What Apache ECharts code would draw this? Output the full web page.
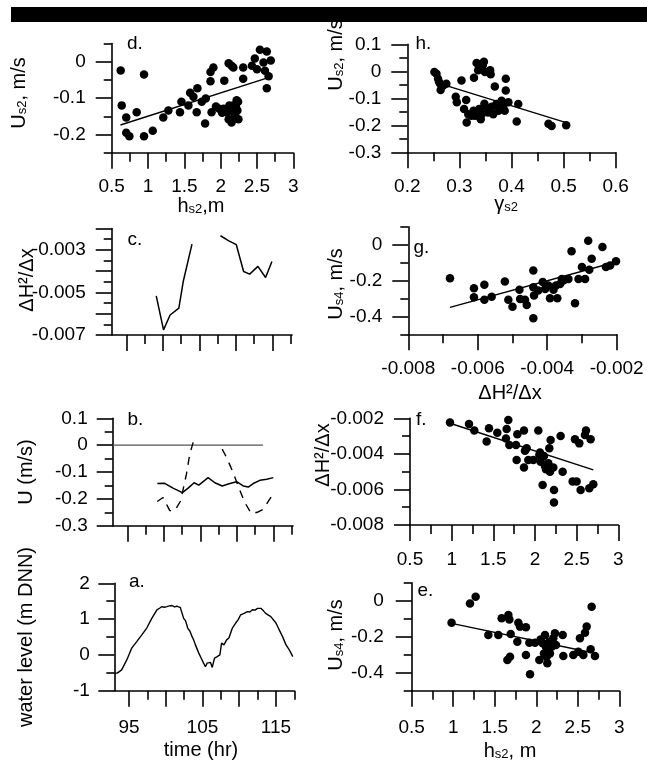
<!DOCTYPE html>
<html><head><meta charset="utf-8">
<script src="https://cdn.jsdelivr.net/npm/echarts@6/dist/echarts.min.js"></script>
<style>html,body{margin:0;padding:0;background:#fff}#c{width:647px;height:763px}</style>
</head><body><div id="c"></div><script>
const FONT = '"Liberation Sans", Arial, Helvetica, sans-serif';

// ---------- data ----------
// panel d: U_s2 vs h_s2
const dPoints = [[0.624,-0.024],[0.638,-0.12],[0.70,-0.153],[0.70,-0.195],[0.743,-0.205],[0.844,-0.139],[0.945,-0.035],[0.945,-0.205],[1.065,-0.19],[1.21,-0.153],[1.28,-0.134],[1.44,-0.139],[1.46,-0.11],[1.58,-0.085],[1.556,-0.12],[1.625,-0.096],[1.68,-0.073],[1.67,-0.139],[1.74,-0.11],[1.795,-0.101],[1.786,-0.17],[1.86,-0.028],[1.90,-0.016],[1.86,-0.054],[1.875,-0.139],[1.935,-0.123],[1.98,-0.129],[2.05,-0.052],[2.04,-0.129],[2.085,-0.139],[2.11,-0.158],[2.11,-0.004],[2.15,-0.011],[2.13,-0.134],[2.15,-0.167],[2.175,-0.12],[2.175,-0.016],[2.20,-0.144],[2.22,-0.106],[2.23,-0.134],[2.245,-0.158],[2.21,-0.123],[2.31,-0.016],[2.31,-0.047],[2.43,-0.011],[2.47,0.009],[2.50,-0.021],[2.54,0.033],[2.635,0.028],[2.59,-0.002],[2.61,-0.025],[2.635,-0.073],[2.69,0.003],[2.66,-0.04],[2.12,-0.12],[2.19,-0.15],[2.02,-0.14],[2.24,-0.11]];
const dFit = [[0.62,-0.174],[2.70,-0.041]];

// panel h: U_s2 vs gamma_s2
const hPoints = [[0.252,-0.003],[0.256,-0.009],[0.259,-0.028],[0.263,-0.046],[0.264,-0.069],[0.269,-0.053],[0.275,-0.046],[0.261,-0.04],[0.293,-0.094],[0.295,-0.115],[0.304,-0.034],[0.309,-0.14],[0.313,-0.106],[0.314,-0.19],[0.323,-0.165],[0.327,-0.146],[0.328,-0.024],[0.333,0.031],[0.336,0.004],[0.338,-0.14],[0.341,-0.178],[0.343,-0.159],[0.345,0.023],[0.347,0.035],[0.349,-0.003],[0.351,-0.134],[0.355,-0.153],[0.359,0.004],[0.36,-0.011],[0.362,-0.131],[0.365,-0.159],[0.368,-0.056],[0.371,-0.121],[0.375,-0.146],[0.381,-0.109],[0.384,-0.131],[0.387,-0.146],[0.389,-0.028],[0.389,-0.071],[0.394,-0.115],[0.41,-0.186],[0.413,-0.121],[0.471,-0.194],[0.477,-0.203],[0.505,-0.2],[0.317,-0.159],[0.33,-0.165],[0.357,-0.14],[0.348,-0.12]];
const hFit = [[0.253,-0.04],[0.505,-0.19]];

// panel c: dH2/dx time series (gap = missing)
const cSeries = [[99.1,-0.00516],[100.1,-0.00676],[101.0,-0.00606],[102.2,-0.00574],[102.8,-0.00449],[104.0,-0.00273],[106,null],[107.9,-0.00234],[109.05,-0.00258],[110.07,-0.00276],[111.07,-0.00402],[111.9,-0.00414],[113.03,-0.00378],[114.08,-0.0043],[114.95,-0.00355]];

// panel g: U_s4 vs dH2/dx
const gPoints = [[-0.0068,-0.187],[-0.00611,-0.243],[-0.00611,-0.293],[-0.00581,-0.224],[-0.00581,-0.308],[-0.0056,-0.29],[-0.00522,-0.206],[-0.00512,-0.308],[-0.005,-0.346],[-0.0048,-0.252],[-0.00478,-0.303],[-0.00464,-0.308],[-0.00459,-0.336],[-0.0044,-0.144],[-0.0044,-0.237],[-0.0044,-0.411],[-0.00438,-0.284],[-0.00426,-0.256],[-0.00413,-0.209],[-0.00406,-0.247],[-0.00392,-0.299],[-0.00382,-0.252],[-0.00375,-0.228],[-0.00371,-0.299],[-0.00363,-0.219],[-0.00358,-0.191],[-0.00339,-0.191],[-0.0033,-0.037],[-0.0032,-0.327],[-0.0031,-0.191],[-0.003,-0.125],[-0.00291,-0.191],[-0.00282,0.021],[-0.00279,-0.14],[-0.00272,-0.079],[-0.00241,-0.013],[-0.00231,-0.125],[-0.00219,-0.116],[-0.00202,-0.093],[-0.00397,-0.228],[-0.00353,-0.2]];
const gFit = [[-0.0068,-0.35],[-0.002,-0.095]];

// panel b: velocities vs time
const bZero = [[93,0],[113.6,0]];
const bSolid = [[99.12,-0.143],[100.12,-0.142],[101.27,-0.160],[102.55,-0.177],[103.33,-0.160],[104.15,-0.140],[104.8,-0.149],[106.07,-0.121],[107.0,-0.140],[108.0,-0.152],[109.05,-0.143],[109.97,-0.136],[110.88,-0.152],[111.57,-0.156],[112.25,-0.143],[113.17,-0.131],[114.1,-0.127],[115.0,-0.121]];
const bDashed = [[99.1,-0.21],[99.9,-0.195],[100.8,-0.243],[101.2,-0.247],[101.7,-0.235],[102.3,-0.208],[103.1,-0.108],[103.55,-0.034],[104.15,0.022],[106,null],[108.0,-0.015],[108.6,-0.046],[109.5,-0.102],[110.3,-0.16],[111.1,-0.214],[112.0,-0.255],[112.8,-0.25],[113.6,-0.239],[114.8,-0.189]];

// panel f: dH2/dx vs h_s2
const fPoints = [[0.98,-0.00223],[1.208,-0.00232],[1.272,-0.00269],[1.42,-0.00331],[1.448,-0.00256],[1.548,-0.00281],[1.58,-0.00191],[1.652,-0.00313],[1.66,-0.0026],[1.68,-0.00209],[1.692,-0.0035],[1.772,-0.0035],[1.78,-0.00434],[1.788,-0.0029],[1.868,-0.00269],[1.868,-0.00476],[1.88,-0.00382],[1.9,-0.00369],[1.92,-0.00434],[1.98,-0.00434],[2.04,-0.00269],[2.052,-0.00406],[2.06,-0.00393],[2.068,-0.00444],[2.092,-0.00575],[2.108,-0.00412],[2.132,-0.00487],[2.16,-0.00453],[2.18,-0.005],[2.172,-0.00369],[2.188,-0.00322],[2.22,-0.00476],[2.228,-0.00603],[2.228,-0.00674],[2.308,-0.00299],[2.332,-0.005],[2.452,-0.00556],[2.5,-0.00556],[2.48,-0.00318],[2.532,-0.00341],[2.548,-0.00603],[2.6,-0.00294],[2.612,-0.00269],[2.652,-0.00594],[2.668,-0.00318],[2.7,-0.00571],[2.12,-0.00468]];
const fFit = [[0.98,-0.00228],[2.7,-0.0049]];

// panel a: water level vs time
const aLevel = [[93.0,-0.51],[93.4,-0.51],[94.0,-0.42],[94.7,-0.14],[95.37,0.19],[96.05,0.37],[96.74,0.56],[97.42,0.75],[98.1,1.02],[98.8,1.26],[99.2,1.31],[99.48,1.35],[99.8,1.33],[100.16,1.35],[100.5,1.37],[100.85,1.38],[101.2,1.34],[101.53,1.36],[101.99,1.32],[102.2,1.18],[102.44,1.02],[102.7,0.95],[102.99,0.75],[103.3,0.66],[103.59,0.51],[103.8,0.42],[104.04,0.28],[104.5,0.05],[104.8,-0.08],[105.1,-0.21],[105.4,-0.33],[105.64,-0.23],[105.86,-0.28],[106.1,-0.21],[106.33,-0.35],[106.64,-0.09],[107.01,-0.05],[107.37,0.0],[107.6,0.33],[107.92,0.28],[108.29,0.42],[108.6,0.47],[108.85,0.62],[109.07,0.75],[109.3,0.80],[109.52,0.89],[109.85,0.98],[110.2,1.12],[110.66,1.16],[111.12,1.21],[111.45,1.20],[111.8,1.26],[112.15,1.25],[112.5,1.30],[112.95,1.30],[113.3,1.23],[113.6,1.16],[114.3,1.07],[115.0,0.89],[115.45,0.70],[115.9,0.51],[116.37,0.28],[116.82,0.14],[117.29,-0.05]];

// panel e: U_s4 vs h_s2
const ePoints = [[0.98,-0.122],[1.202,-0.015],[1.27,0.022],[1.423,-0.191],[1.543,-0.191],[1.583,-0.098],[1.664,-0.08],[1.676,-0.104],[1.652,-0.33],[1.684,-0.311],[1.692,-0.185],[1.772,-0.228],[1.784,-0.122],[1.804,-0.144],[1.876,-0.148],[1.876,-0.302],[1.917,-0.233],[1.925,-0.409],[1.985,-0.233],[2.037,-0.33],[2.053,-0.215],[2.077,-0.237],[2.093,-0.293],[2.105,-0.191],[2.117,-0.256],[2.125,-0.311],[2.133,-0.348],[2.157,-0.228],[2.165,-0.293],[2.185,-0.256],[2.205,-0.209],[2.225,-0.181],[2.237,-0.246],[2.318,-0.191],[2.326,-0.307],[2.446,-0.302],[2.506,-0.283],[2.526,-0.209],[2.567,-0.302],[2.587,-0.178],[2.607,-0.144],[2.655,-0.27],[2.667,-0.033],[2.707,-0.307],[2.145,-0.274]];
const eFit = [[0.98,-0.126],[2.707,-0.292]];

// ---------- tick values ----------
const hsMajor = [0.5,1,1.5,2,2.5,3], hsMinor = [0.75,1.25,1.75,2.25,2.75];
const timeMajor = [95,100,105,110,115], timeMinor = [97.5,102.5,107.5,112.5,117.5], timeLabels = [95,105,115];
const dYLabels = [-0.2,-0.1,0], dYMinor = [-0.25,-0.15,-0.05,0.05];
const hYLabels = [-0.3,-0.2,-0.1,0,0.1], hYMinor = [-0.25,-0.15,-0.05,0.05];
const hXLabels = [0.2,0.3,0.4,0.5,0.6], hXMinor = [0.25,0.35,0.45,0.55];
const cYLabels = [-0.007,-0.005,-0.003], cYMajor = [-0.007,-0.006,-0.005,-0.004,-0.003,-0.002], cYMinor = [-0.0065,-0.0055,-0.0045,-0.0035,-0.0025];
const usLabels = [-0.4,-0.2,0], usMinor = [-0.5,-0.3,-0.1,0.1];
const gXLabels = [-0.008,-0.006,-0.004,-0.002], gXMinor = [-0.007,-0.005,-0.003];
const bYLabels = [-0.3,-0.2,-0.1,0,0.1], bYMinor = [-0.25,-0.15,-0.05,0.05];
const fYLabels = [-0.008,-0.006,-0.004,-0.002], fYMinor = [-0.007,-0.005,-0.003];
const aYLabels = [-1,0,1,2], aYMinor = [-0.5,0.5,1.5];

// ---------- build ----------
const grids = [], xAxes = [], yAxes = [], series = [];
const LINE = {color:'#000', width:1.6};
function axisPair(dim, gi, a) {
  const arr = dim === 'x' ? xAxes : yAxes;
  const pos = dim === 'x' ? 'bottom' : 'left';
  const idx = arr.length;
  arr.push({type:'value', gridIndex:gi, position:pos, min:a.min, max:a.max,
    axisLine:{show:true, onZero:false, lineStyle:LINE},
    axisTick:{show:true, inside:false, length:16, customValues:a.major || a.labels || [], lineStyle:LINE},
    axisLabel:{show:!!a.labels, customValues:a.labels || [], margin:a.margin, color:'#000', fontSize:19, fontFamily:FONT},
    splitLine:{show:false}});
  arr.push({type:'value', gridIndex:gi, position:pos, min:a.min, max:a.max,
    axisLine:{show:false, onZero:false},
    axisTick:{show:true, inside:false, length:dim === 'x' ? 9 : 8, customValues:a.minor, lineStyle:LINE},
    axisLabel:{show:false}, splitLine:{show:false}});
  return idx;
}
function panel(g, xa, ya) {
  const gi = grids.length;
  grids.push({left:g[0], top:g[1], width:g[2], height:g[3]});
  return {x: axisPair('x', gi, xa), y: axisPair('y', gi, ya)};
}
function scatter(p, data) {
  series.push({type:'scatter', xAxisIndex:p.x, yAxisIndex:p.y, data, symbolSize:8.5, itemStyle:{color:'#000', opacity:1}, silent:true});
}
function line(p, data, style) {
  series.push({type:'line', xAxisIndex:p.x, yAxisIndex:p.y, data, symbol:'none', showSymbol:false, connectNulls:false,
    lineStyle:Object.assign({color:'#000', width:1.5}, style || {}), silent:true});
}

const pd = panel([111.7,43.5,181.6,109.2], {min:0.5,max:3,major:hsMajor,labels:hsMajor,minor:hsMinor,margin:25}, {min:-0.25,max:0.05,major:dYLabels,labels:dYLabels,minor:dYMinor,margin:26});
scatter(pd, dPoints); line(pd, dFit);

const ph = panel([407.3,44.3,208.4,108], {min:0.2,max:0.6,labels:hXLabels,minor:hXMinor,margin:25}, {min:-0.3,max:0.1,labels:hYLabels,minor:hYMinor,margin:26});
scatter(ph, hPoints); line(ph, hFit);

const pc = panel([111.7,228.5,180.3,106.5], {min:93,max:117.7,major:timeMajor,labels:null,minor:timeMinor,margin:25}, {min:-0.007,max:-0.002,major:cYMajor,labels:cYLabels,minor:cYMinor,margin:26});
line(pc, cSeries);

const pg = panel([408.3,226.7,208.4,107.6], {min:-0.008,max:-0.002,labels:gXLabels,minor:gXMinor,margin:25}, {min:-0.5,max:0.1,labels:usLabels,minor:usMinor,margin:26});
scatter(pg, gPoints); line(pg, gFit);

const pb = panel([112.7,418.3,180.3,107.4], {min:93,max:117.7,major:timeMajor,labels:null,minor:timeMinor,margin:25}, {min:-0.3,max:0.1,labels:bYLabels,minor:bYMinor,margin:25});
line(pb, bZero, {color:'#555', width:1.1});
line(pb, bSolid);
line(pb, bDashed, {type:[8,7], width:1.4});

const pf = panel([410,418.3,208.3,106.7], {min:0.5,max:3,labels:hsMajor,minor:hsMinor,margin:25}, {min:-0.008,max:-0.002,labels:fYLabels,minor:fYMinor,margin:26});
scatter(pf, fPoints); line(pf, fFit);

const pa = panel([114.3,583.3,180,107.4], {min:93,max:117.5,major:timeMajor,labels:timeLabels,minor:timeMinor,margin:28}, {min:-1,max:2,labels:aYLabels,minor:aYMinor,margin:24.5});
line(pa, aLevel, {width:1.4});

const pe = panel([411.7,582.7,207.6,108], {min:0.5,max:3,labels:hsMajor,minor:hsMinor,margin:28}, {min:-0.5,max:0.1,labels:usLabels,minor:usMinor,margin:28});
scatter(pe, ePoints); line(pe, eFit);

// ---------- text ----------
const RICH = {
  n:{fontSize:20, lineHeight:22, verticalAlign:'bottom', fontFamily:FONT, fill:'#000'},
  s:{fontSize:13, lineHeight:10, verticalAlign:'bottom', fontFamily:FONT, fill:'#000'}
};
function txt(text, x, y, opt) {
  opt = opt || {};
  return {type:'text', x, y, rotation: opt.rot ? Math.PI/2 : 0, silent:true,
    style:{text, fontSize:opt.size || 20, fontFamily:FONT, fill:'#000',
      align:opt.align || 'center', verticalAlign:opt.va || 'middle',
      textAlign:opt.align || 'center', textVerticalAlign:opt.va || 'middle', rich:RICH}};
}
const L = {size:19, align:'left', va:'bottom'};
const graphics = [
  {type:'rect', shape:{x:11, y:7, width:636, height:15}, style:{fill:'#000'}, silent:true},
  // panel letters (y = baseline + descent)
  txt('d.', 127, 53, L),
  txt('h.', 415.5, 53, L),
  txt('c.', 127.5, 249, L),
  txt('g.', 413.5, 257, L),
  txt('b.', 127.5, 429, L),
  txt('f.', 416, 429, L),
  txt('a.', 129, 591, L),
  txt('e.', 417.5, 600, L),
  // y-axis titles
  txt('{n|U}{s|s2}{n|, m/s}', 18, 93, {rot:true}),
  txt('{n|U}{s|s2}{n|, m/s}', 335, 55, {rot:true}),
  txt('ΔH²/Δx', 27, 280, {rot:true}),
  txt('{n|U}{s|s4}{n|, m/s}', 335, 284, {rot:true}),
  txt('U (m/s)', 26, 472, {rot:true}),
  txt('ΔH²/Δx', 323, 455, {rot:true}),
  txt('water level (m DNN)', 26, 637, {rot:true}),
  txt('{n|U}{s|s4}{n|, m/s}', 335, 635, {rot:true}),
  // x-axis titles
  txt('{n|h}{s|s2}{n|,m}', 201, 205),
  txt('{n|γ}{s|s2}', 506, 203),
  txt('ΔH²/Δx', 510, 393),
  txt('time (hr)', 201, 750),
  txt('{n|h}{s|s2}{n|, m}', 510, 750)
];

const chart = echarts.init(document.getElementById('c'), null, {renderer:'canvas'});
chart.setOption({
  animation:false,
  backgroundColor:'#fff',
  textStyle:{fontFamily:FONT},
  grid:grids, xAxis:xAxes, yAxis:yAxes, series, graphic:graphics
});
</script></body></html>
